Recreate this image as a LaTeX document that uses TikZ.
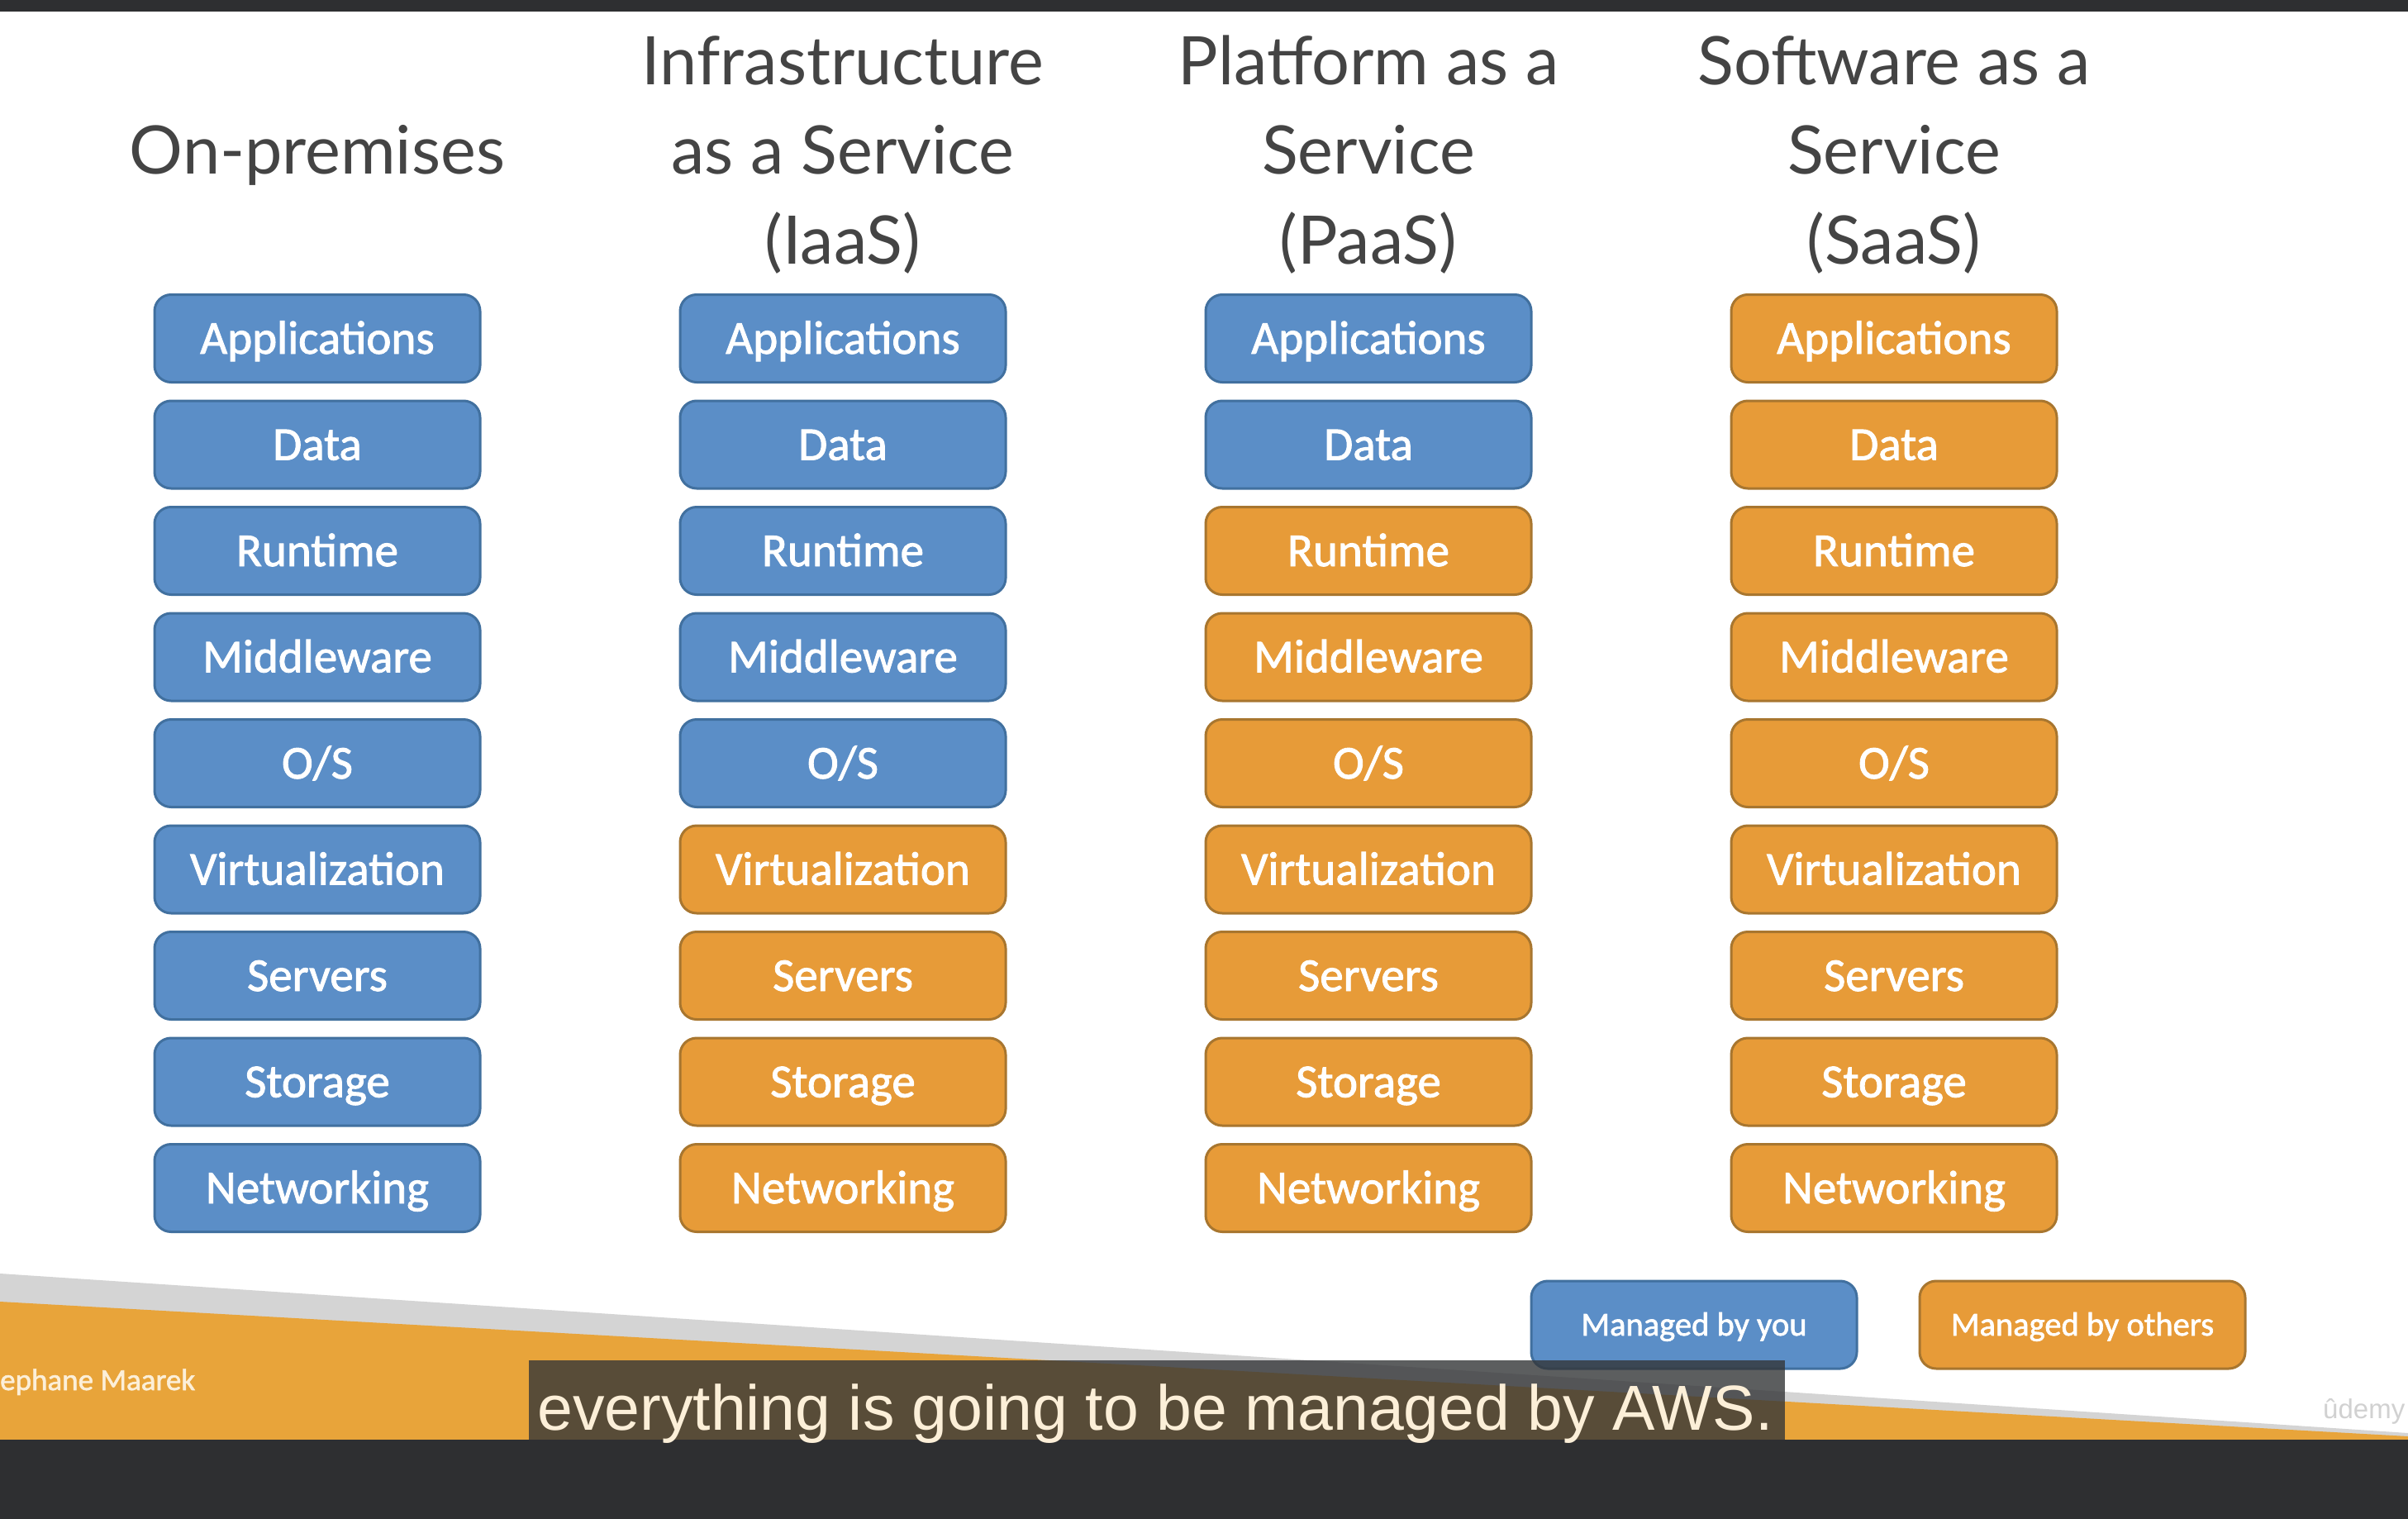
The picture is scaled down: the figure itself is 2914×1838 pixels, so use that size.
\documentclass[tikz,border=0pt]{standalone}
\usepackage{fontspec}
\setmainfont{Carlito}
\newfontfamily\tilefont[FakeBold=1.6]{Carlito}
\newfontfamily\headfont{Lato}
\newfontfamily\capfont{Liberation Sans}

\definecolor{youfill}{HTML}{5B8EC7}
\definecolor{youline}{HTML}{41709F}
\definecolor{othfill}{HTML}{E79B38}
\definecolor{othline}{HTML}{A8762F}
\definecolor{bandorange}{HTML}{E8A43A}
\definecolor{bandgray}{HTML}{D4D4D4}
\definecolor{frame}{HTML}{2E2F31}
\definecolor{headgray}{HTML}{444444}
\definecolor{captext}{HTML}{FCEFD8}
\definecolor{capbox}{HTML}{343638}

\tikzset{
  tile/.style={rounded corners=20pt, draw, line width=3pt,
    minimum width=394pt, minimum height=106pt, inner sep=0pt,
    text=white, font=\tilefont\fontsize{57}{60}\selectfont,
    text height=37pt, text depth=0pt},
  mine/.style={tile, fill=youfill, draw=youline},
  theirs/.style={tile, fill=othfill, draw=othline},
  keybox/.style={font=\tilefont\fontsize{40.5}{44}\selectfont, text height=26pt},
  headline/.style={anchor=base, inner sep=0pt, text=headgray,
    font=\headfont\fontsize{81}{100}\selectfont},
}

\begin{document}
\begin{tikzpicture}[x=1pt, y=-1pt]
  % page area
  \fill[white] (0,0) rectangle (2914,1838);
  \useasboundingbox (0,0) rectangle (2914,1838);
  \fill[frame] (0,0) rectangle (2914,14);

  % column headings
  \node[headline] (h1) at (384,211) {On-premises};
  \node[headline] (h2a) at (1020,103) {Infrastructure};
  \node[headline] (h2b) at (1020,211) {as a Service};
  \node[headline] (h2c) at (1020,319) {(IaaS)};
  \node[headline] (h3a) at (1656,103) {Platform as a};
  \node[headline] (h3b) at (1656,211) {Service};
  \node[headline] (h3c) at (1656,319) {(PaaS)};
  \node[headline] (h4a) at (2292,103) {Software as a};
  \node[headline] (h4b) at (2292,211) {Service};
  \node[headline] (h4c) at (2292,319) {(SaaS)};

  % stacks: the first \nb layers of each column are managed by you
  \foreach \col/\cx/\nb in {1/384/9, 2/1020/5, 3/1656/2, 4/2292/0} {
    \foreach \lab [count=\r] in {Applications,Data,Runtime,Middleware,{O/S},
        Virtualization,Servers,Storage,Networking} {
      \ifnum\r>\nb
        \tikzset{layer/.style={theirs}}
      \else
        \tikzset{layer/.style={mine}}
      \fi
      \node[layer] (c\col r\r) at (\cx,{409.5+128.5*(\r-1)}) {\lab};
    }
  }

  % footer band
  \fill[bandgray] (0,1541) -- (2914,1734) -- (2914,1742) -- (0,1742) -- cycle;
  \fill[bandorange] (0,1575) -- (2914,1738) -- (2914,1742) -- (0,1742) -- cycle;
  \node[anchor=base west, inner sep=0pt, text=captext,
        font=\tilefont\fontsize{37}{40}\selectfont] (author) at (0,1682) {ephane Maarek};
  \node[anchor=base west, inner sep=0pt, text=black!18,
        font=\capfont\fontsize{33}{36}\selectfont] (logo) at (2811,1716) {ûdemy};

  % legend
  \node[mine, keybox] (kyou) at (2050,1603) {Managed by you};
  \node[theirs, keybox] (kothers) at (2520,1603) {Managed by others};

  % bottom frame and caption
  \fill[frame] (0,1742) rectangle (2914,1838);
  \fill[capbox, fill opacity=0.8] (640,1646) rectangle (2160,1742);
  \node[anchor=base, inner sep=0pt, text=captext,
        font=\capfont\fontsize{77}{90}\selectfont] (caption) at (1398,1730)
        {everything is going to be managed by AWS.};
\end{tikzpicture}
\end{document}
